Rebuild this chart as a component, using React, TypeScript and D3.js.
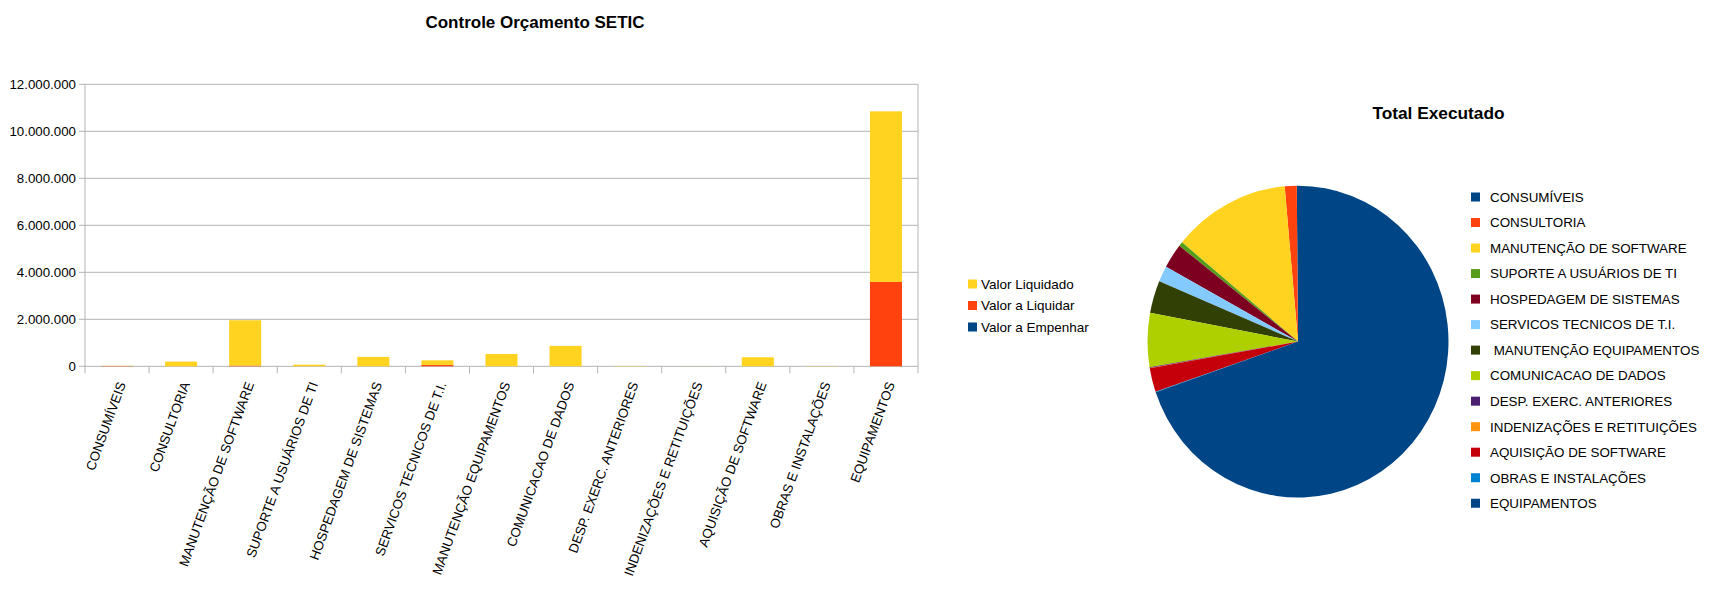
import React from "react";
import * as d3 from "d3";

const categories = [
  "CONSUMÍVEIS",
  "CONSULTORIA",
  "MANUTENÇÃO DE SOFTWARE",
  "SUPORTE A USUÁRIOS DE TI",
  "HOSPEDAGEM DE SISTEMAS",
  "SERVICOS TECNICOS DE T.I.",
  "MANUTENÇÃO EQUIPAMENTOS",
  "COMUNICACAO DE DADOS",
  "DESP. EXERC. ANTERIORES",
  "INDENIZAÇÕES E RETITUIÇÕES",
  "AQUISIÇÃO DE SOFTWARE",
  "OBRAS E INSTALAÇÕES",
  "EQUIPAMENTOS",
];
const pieLegendLabels = categories.map((c) => (c === "MANUTENÇÃO EQUIPAMENTOS" ? " " + c : c));

const valorLiquidado = [10000, 200000, 1930000, 70000, 400000, 195000, 525000, 870000, 12000, 4000, 385000, 10000, 7260000];
const valorALiquidar = [10000, 0, 30000, 0, 0, 60000, 0, 0, 0, 0, 0, 0, 3590000];
const valorAEmpenhar = [0, 0, 0, 0, 0, 0, 0, 0, 0, 0, 0, 0, 0];

const seriesKeys = ["empenhar", "liquidar", "liquidado"];
const seriesNames: Record<string, string> = {
  liquidado: "Valor Liquidado",
  liquidar: "Valor a Liquidar",
  empenhar: "Valor a Empenhar",
};
const seriesColors: Record<string, string> = {
  liquidado: "#ffd320",
  liquidar: "#ff420e",
  empenhar: "#004586",
};
const legendOrder = ["liquidado", "liquidar", "empenhar"];
const yTicks = [0, 2000000, 4000000, 6000000, 8000000, 10000000, 12000000];

const pieColors = [
  "#004586", "#ff420e", "#ffd320", "#579d1c", "#7e0021", "#83caff", "#314004",
  "#aecf00", "#4b1f6f", "#ff950e", "#c5000b", "#0084d1", "#004586",
];

const FONT = "'Liberation Sans', Arial, sans-serif";

const locale = d3.formatLocale({ decimal: ",", thousands: ".", grouping: [3], currency: ["R$", ""] });
const fmt = locale.format(",d");

export default function App() {
  const rows = categories.map((c, i) => ({
    cat: c,
    liquidado: valorLiquidado[i],
    liquidar: valorALiquidar[i],
    empenhar: valorAEmpenhar[i],
  }));
  const stacked = d3.stack<any>().keys(seriesKeys)(rows);

  const x = d3.scaleBand<string>().domain(categories).range([85, 918]).paddingInner(0.5).paddingOuter(0.25);
  const y = d3.scaleLinear().domain([0, 12000000]).range([366.3, 84.3]);
  const step = x.step();
  const yTop = y(12000000);
  const yBot = y(0);

  const totals = categories.map((_, i) => valorLiquidado[i] + valorALiquidar[i] + valorAEmpenhar[i]);
  const pie = d3.pie<number>().sort(null).startAngle(0).endAngle(-2 * Math.PI)(totals);
  const R = 150.5;
  const arc = d3.arc<d3.PieArcDatum<number>>().innerRadius(0).outerRadius(R);
  const cx = 1298, cy = 341.6;

  return (
    <svg width={1714} height={593} style={{ position: "absolute", left: 0, top: 0, background: "#fff" }} fontFamily={FONT}>
      <rect x={0} y={0} width={1714} height={593} fill="#fff" />
      {/* Bar chart title */}
      <text x={535} y={28} textAnchor="middle" fontSize={17} fontWeight="bold" fill="#000">
        Controle Orçamento SETIC
      </text>
      {/* gridlines */}
      {yTicks.map((t) => (
        <g key={t}>
          <line x1={79} x2={918} y1={y(t)} y2={y(t)} stroke="#b3b3b3" strokeWidth={1} />
          <text x={76} y={y(t)} dy="0.36em" textAnchor="end" fontSize={13.3} fill="#000">
            {fmt(t)}
          </text>
        </g>
      ))}
      {/* vertical borders and category ticks */}
      {d3.range(categories.length + 1).map((k) => {
        const xx = 85 + k * step;
        const isEdge = k === 0 || k === categories.length;
        return <line key={k} x1={xx} x2={xx} y1={isEdge ? yTop : yBot} y2={yBot + 7} stroke="#b3b3b3" strokeWidth={1} />;
      })}
      {/* bars */}
      {stacked.map((s) => (
        <g key={s.key} fill={seriesColors[s.key]}>
          {s.map((d, i) => {
            const h = y(d[0]) - y(d[1]);
            if (h <= 0) return null;
            return <rect key={i} x={x(categories[i])} y={y(d[1])} width={x.bandwidth()} height={h} />;
          })}
        </g>
      ))}
      {/* x labels */}
      {categories.map((c) => {
        const xc = (x(c) as number) + x.bandwidth() / 2 + 9;
        return (
          <text key={c} transform={`translate(${xc},384) rotate(-70)`} textAnchor="end" fontSize={13.3} fill="#000">
            {c}
          </text>
        );
      })}
      {/* bar legend */}
      {legendOrder.map((k, i) => (
        <g key={k}>
          <rect x={968} y={279.5 + i * 21.5} width={9} height={9} fill={seriesColors[k]} />
          <text x={981} y={284 + i * 21.5} dy="0.36em" fontSize={13.5} fill="#000">
            {seriesNames[k]}
          </text>
        </g>
      ))}

      {/* Pie chart */}
      <text x={1438.5} y={119} textAnchor="middle" fontSize={17.3} fontWeight="bold" fill="#000">
        Total Executado
      </text>
      <g transform={`translate(${cx},${cy}) scale(1,1.036)`}>
        {pie.map((p, i) => (
          <path key={i} d={arc(p) as string} fill={pieColors[i]} />
        ))}
      </g>
      {pieLegendLabels.map((c, i) => (
        <g key={i}>
          <rect x={1471} y={192.5 + i * 25.52} width={9} height={9} fill={pieColors[i]} />
          <text x={1490} y={197 + i * 25.52} dy="0.36em" fontSize={13.4} fill="#000" style={{ whiteSpace: "pre" }}>
            {c}
          </text>
        </g>
      ))}
    </svg>
  );
}
